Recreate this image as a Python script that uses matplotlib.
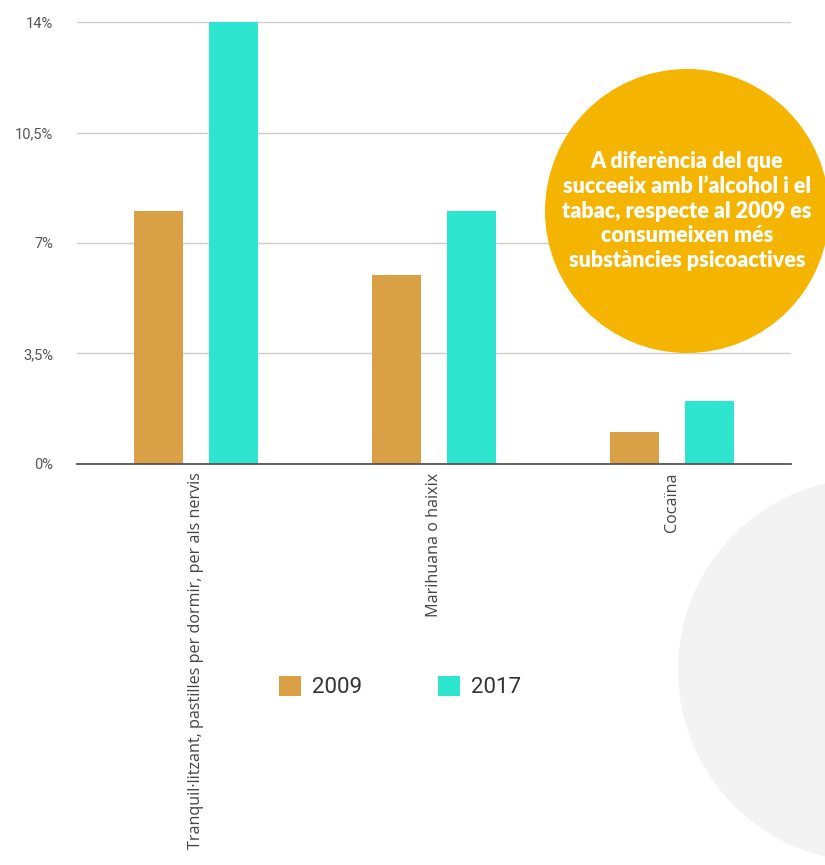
import numpy as np
import matplotlib
matplotlib.use("Agg")
import matplotlib.pyplot as plt
from matplotlib.patches import Circle

# data (percent)
categories = ["Tranquil·litzant, pastilles per dormir, per als nervis",
              "Marihuana o haixix",
              "Cocaïna"]
years = ["2009", "2017"]
v2009 = [8.0, 6.0, 1.0]
v2017 = [14.0, 8.0, 2.0]
yticks = [0, 3.5, 7, 10.5, 14]
ytick_labels = ["0%", "3,5%", "7%", "10,5%", "14%"]
note = ("A diferència del que\nsucceeix amb l’alcohol i el\n"
        "tabac, respecte al 2009 es\nconsumeixen més\nsubstàncies psicoactives")

c2009 = "#D9A046"
c2017 = "#2EE6CF"

W, H = 825, 865
fig = plt.figure(figsize=(W / 100, H / 100), dpi=100)
fig.patch.set_facecolor("white")

# background layer (grey circle)
bg = fig.add_axes([0, 0, 1, 1], zorder=0)
bg.set_xlim(0, W)
bg.set_ylim(H, 0)
bg.axis("off")
bg.add_patch(Circle((870, 670), 192, color="#f3f3f3", lw=0))

# main chart
ax = fig.add_axes([77 / W, 1 - 464 / H, (791 - 77) / W, (464 - 22) / H], zorder=1)
ax.patch.set_alpha(0)
x = np.arange(len(categories))
off, bw = 0.157, 0.205
b1 = ax.bar(x - off, v2009, bw, color=c2009, label=years[0], zorder=3)
b2 = ax.bar(x + off, v2017, bw, color=c2017, label=years[1], zorder=3)
ax.set_xlim(-0.5, 2.5)
ax.set_ylim(0, 14)
ax.set_yticks(yticks)
ax.set_yticklabels(ytick_labels, fontfamily="Roboto", fontsize=10.5, color="#555555")
ax.set_xticks(x)
ax.set_xticklabels(categories, rotation=90, va="top", ha="center",
                   fontfamily="Open Sans", fontsize=11.6, color="#444444")
ax.tick_params(axis="x", length=0, pad=6)
ax.tick_params(axis="y", length=0, pad=17)
ax.grid(axis="y", color="#cccccc", lw=1, zorder=0)
for s in ["top", "right", "left"]:
    ax.spines[s].set_visible(False)
ax.spines["bottom"].set_color("#555555")
ax.spines["bottom"].set_linewidth(1.3)
ax.spines["bottom"].set_zorder(4)

fig.legend(handles=[b1, b2], loc="center", bbox_to_anchor=(400 / W, 1 - 687 / H),
           ncol=2, frameon=False, handlelength=1.0, handleheight=1.0,
           handletextpad=0.5, columnspacing=3.4,
           prop={"family": "Roboto", "size": 16})
for t in fig.legends[0].get_texts():
    t.set_color("#333333")

# overlay (yellow note circle)
ov = fig.add_axes([0, 0, 1, 1], zorder=5)
ov.set_xlim(0, W)
ov.set_ylim(H, 0)
ov.axis("off")
ov.patch.set_alpha(0)
ov.add_patch(Circle((687, 211), 142, color="#F5B400", lw=0))
ov.text(687, 211, note, ha="center", va="center", color="white",
        fontfamily="Lato", fontweight="heavy", fontsize=15.5, linespacing=1.22)

fig.savefig("out.png", dpi=100)
